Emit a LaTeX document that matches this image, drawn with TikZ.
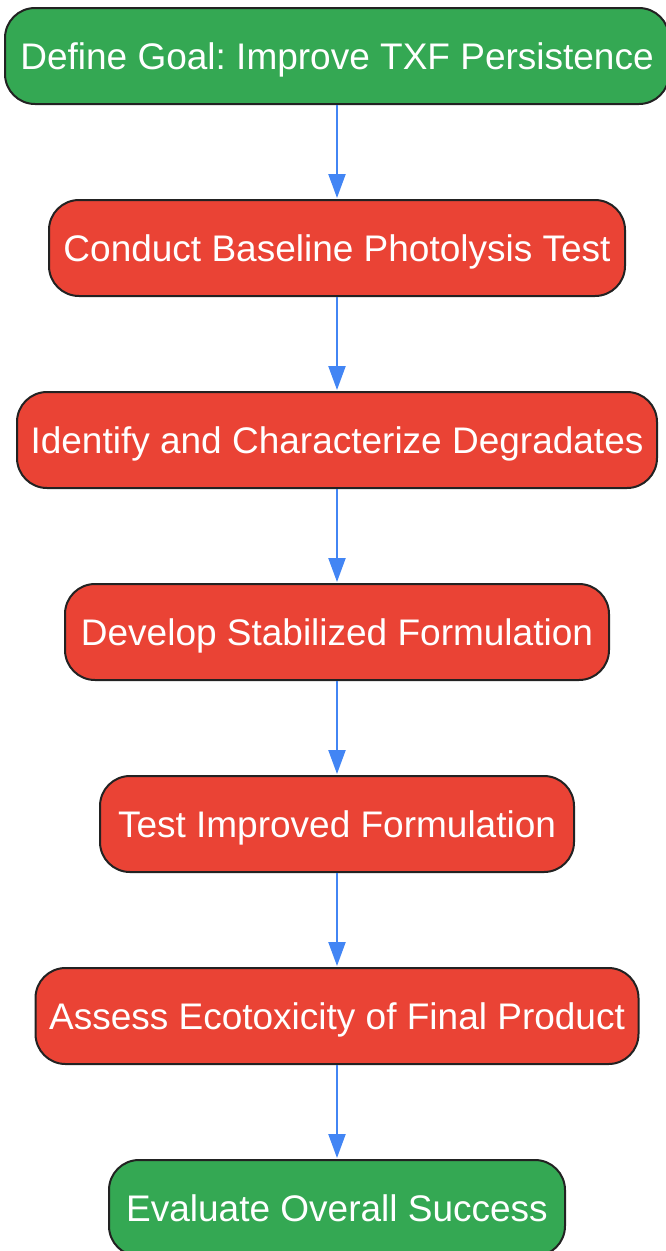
\documentclass[tikz,border=0pt]{standalone}
\usepackage{fontspec}
\setmainfont{Liberation Sans}
\frenchspacing
\definecolor{goodgreen}{HTML}{34A853}
\definecolor{badred}{HTML}{EA4335}
\definecolor{arrowblue}{HTML}{4285F4}
\definecolor{edgedark}{HTML}{222222}
\usetikzlibrary{arrows.meta}
\begin{document}
\begin{tikzpicture}[x=1pt,y=-1pt,
  box/.style={draw=edgedark, line width=2pt, rounded corners=30pt, minimum height=96pt,
    inner sep=0pt, text=white, font=\fontsize{37}{44}\selectfont, text height=26.5pt, text depth=0pt},
  gbox/.style={box, fill=goodgreen},
  rbox/.style={box, fill=badred},
  flow/.style={draw=arrowblue, line width=2.2pt, -{Triangle[length=24pt,width=17pt]}, shorten >=1pt}]
\useasboundingbox (0,0) rectangle (666,1251);
\node[gbox, minimum width=664pt] (n1) at (337,56) {Define Goal: Improve TXF Persistence};
\node[rbox, minimum width=576pt] (n2) at (337,248) {Conduct Baseline Photolysis Test};
\node[rbox, minimum width=640pt] (n3) at (337,440) {Identify and Characterize Degradates};
\node[rbox, minimum width=544pt] (n4) at (337,632) {Develop Stabilized Formulation};
\node[rbox, minimum width=474pt] (n5) at (337,824) {Test Improved Formulation};
\node[rbox, minimum width=603pt] (n6) at (337,1016) {Assess Ecotoxicity of Final Product};
\node[gbox, minimum width=456pt] (n7) at (337,1208) {Evaluate Overall Success};
\draw[flow] (n1) -- (n2);
\draw[flow] (n2) -- (n3);
\draw[flow] (n3) -- (n4);
\draw[flow] (n4) -- (n5);
\draw[flow] (n5) -- (n6);
\draw[flow] (n6) -- (n7);
\end{tikzpicture}
\end{document}
